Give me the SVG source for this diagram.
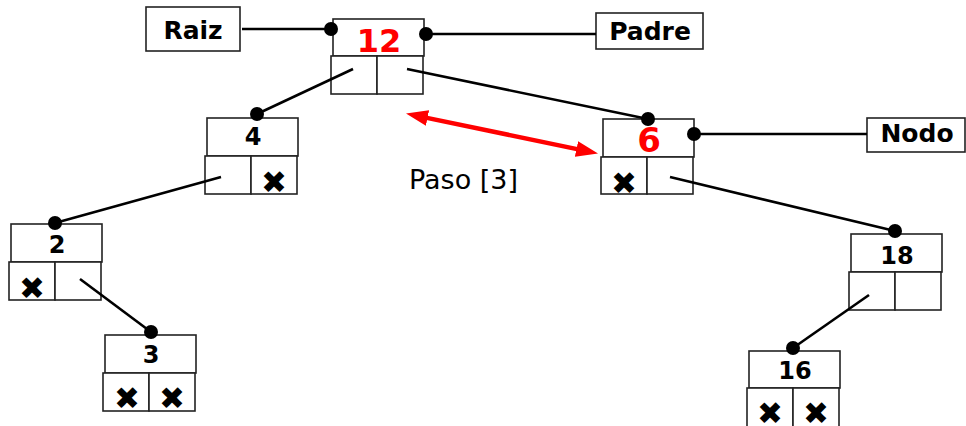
<svg xmlns="http://www.w3.org/2000/svg" width="966" height="426" viewBox="0 0 966 426">
<defs>
<style>
.box{fill:#fff;stroke:#222;stroke-width:1.6}
.lbl{font-family:"DejaVu Sans",Verdana,sans-serif;font-weight:bold;font-size:25px;fill:#000;text-anchor:middle}
.num{font-family:"DejaVu Sans",Verdana,sans-serif;font-weight:bold;font-size:24px;fill:#000;text-anchor:middle}
.red{fill:#ff0000;font-size:32px}
.x{font-family:"DejaVu Sans",sans-serif;font-size:31px;fill:#000;text-anchor:middle}
.con{stroke:#000;stroke-width:2.6;fill:none}
.dot{fill:#000}
</style>
<marker id="ah" viewBox="0 0 22 16" markerWidth="22" markerHeight="16" markerUnits="userSpaceOnUse" refX="8" refY="8" orient="auto-start-reverse">
<path d="M0,0 L22,8 L0,16 Z" fill="#ff0000"/>
</marker>
</defs>
<rect width="966" height="426" fill="#fff"/>

<g id="raiz"><rect class="box" x="146" y="7" width="94" height="44"/><text class="lbl" x="193" y="39">Raiz</text></g>
<g id="padre"><rect class="box" x="596" y="13" width="107" height="36"/><text class="lbl" x="650" y="40">Padre</text></g>
<g id="nodo"><rect class="box" x="867" y="118" width="98" height="34"/><text class="lbl" x="917" y="142">Nodo</text></g>

<g id="n12"><rect class="box" x="333" y="19" width="91" height="37"/><rect class="box" x="331" y="56" width="46" height="38"/><rect class="box" x="377" y="56" width="46" height="38"/><text class="num red" x="379" y="52">12</text></g>
<g id="n4"><rect class="box" x="207" y="118" width="91" height="38"/><rect class="box" x="205" y="156" width="46" height="38"/><rect class="box" x="251" y="156" width="46" height="38"/><text class="num" x="253" y="145">4</text><text class="x" x="274" y="192.5">✖</text></g>
<g id="n6"><rect class="box" x="603" y="119" width="91" height="38"/><rect class="box" x="601" y="157" width="46" height="37"/><rect class="box" x="647" y="157" width="46" height="37"/><text class="num red" style="font-size:34px" x="649" y="152">6</text><text class="x" x="624" y="193.5">✖</text></g>
<g id="n2"><rect class="box" x="11" y="224" width="91" height="38"/><rect class="box" x="9" y="262" width="46" height="38"/><rect class="box" x="55" y="262" width="46" height="38"/><text class="num" x="57" y="253">2</text><text class="x" x="32" y="299">✖</text></g>
<g id="n3"><rect class="box" x="105" y="335" width="91" height="38"/><rect class="box" x="103" y="373" width="46" height="38"/><rect class="box" x="149" y="373" width="46" height="38"/><text class="num" x="151" y="363">3</text><text class="x" x="127" y="409">✖</text><text class="x" x="172" y="409">✖</text></g>
<g id="n18"><rect class="box" x="851" y="234" width="91" height="38"/><rect class="box" x="849" y="272" width="46" height="38"/><rect class="box" x="895" y="272" width="46" height="38"/><text class="num" x="897" y="264">18</text></g>
<g id="n16"><rect class="box" x="749" y="351" width="91" height="37"/><rect class="box" x="747" y="388" width="46" height="40"/><rect class="box" x="793" y="388" width="46" height="40"/><text class="num" x="795" y="379">16</text><text class="x" x="770" y="424">✖</text><text class="x" x="816" y="424">✖</text></g>

<g id="connectors">
<line class="con" x1="242" y1="29" x2="331" y2="29"/><circle class="dot" cx="331" cy="29" r="7"/>
<line class="con" x1="426" y1="34" x2="596" y2="34"/><circle class="dot" cx="426" cy="34" r="7"/>
<line class="con" x1="353" y1="69" x2="257" y2="114"/><circle class="dot" cx="257" cy="114" r="7"/>
<line class="con" x1="407" y1="69" x2="648" y2="119"/><circle class="dot" cx="648" cy="119" r="7"/>
<line class="con" x1="694" y1="134" x2="867" y2="134"/><circle class="dot" cx="694" cy="134" r="7"/>
<line class="con" x1="221" y1="177" x2="55" y2="223"/><circle class="dot" cx="55" cy="223" r="7"/>
<line class="con" x1="670" y1="177" x2="895" y2="231"/><circle class="dot" cx="895" cy="231" r="7"/>
<line class="con" x1="80" y1="279" x2="151" y2="332"/><circle class="dot" cx="151" cy="332" r="7"/>
<line class="con" x1="869" y1="295" x2="793" y2="348"/><circle class="dot" cx="793" cy="348" r="7"/>
<line x1="419.7" y1="116.4" x2="584.3" y2="150.6" stroke="#ff0000" stroke-width="4.5" marker-start="url(#ah)" marker-end="url(#ah)"/>
</g>
<text x="409" y="189" font-family="DejaVu Sans,Verdana,sans-serif" font-size="27" fill="#000">Paso [3]</text>
</svg>
